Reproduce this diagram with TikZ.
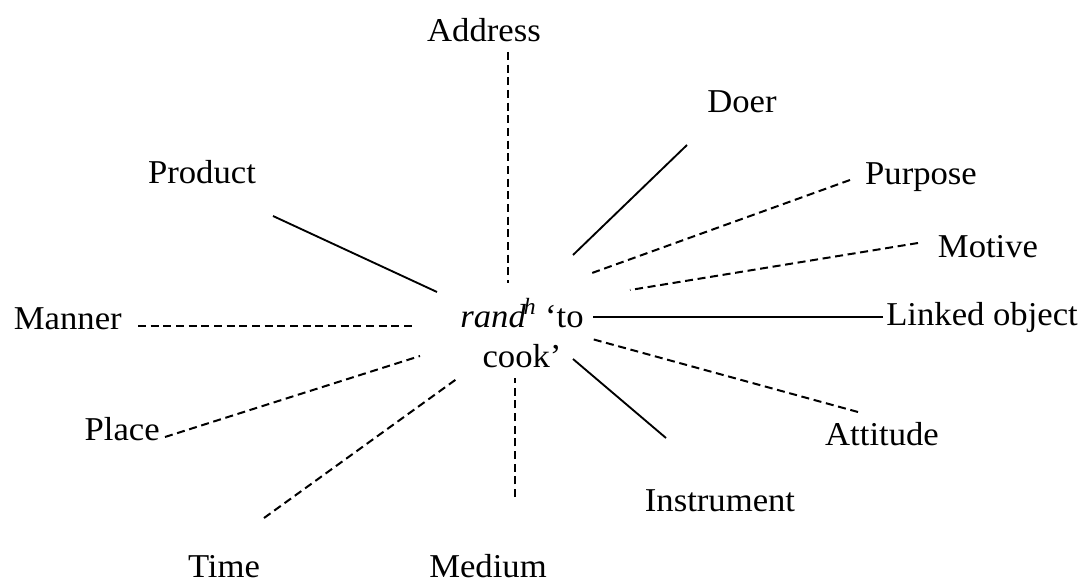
\documentclass[tikz,border=0pt]{standalone}
\usepackage{fontspec}
\setmainfont{Liberation Serif}[FakeStretch=1.04]
\begin{document}
\begin{tikzpicture}[x=0.75pt,y=-0.75pt,
  lbl/.style={anchor=base,inner sep=0pt,font=\fontsize{25}{30}\selectfont},
  link/.style={line width=1.4pt},
  weak/.style={line width=1.5pt,dash pattern=on 6pt off 3.5pt}]
\useasboundingbox (0,0) rectangle (1086,585);

% the verb at the centre
\node[lbl] (verb1) at (522,327) {\textit{rand}\textsuperscript{\kern-0.1em\textit{h}} ‘to};
\node[lbl] (verb2) at (522,367) {cook’};

% role labels
\node[lbl] (address) at (484,42)  {Address};
\node[lbl] (product) at (202,183) {Product};
\node[lbl] (doer)    at (742,113) {Doer};
\node[lbl] (purpose) at (921,185) {Purpose};
\node[lbl] (motive)  at (988,257) {Motive};
\node[lbl,anchor=base west] (linked) at (886,325) {Linked object};
\node[lbl,anchor=base east] (manner) at (122,329) {Manner};
\node[lbl,anchor=base east] (place)  at (160,440) {Place};
\node[lbl] (attitude)   at (882,445) {Attitude};
\node[lbl] (instrument) at (720,511) {Instrument};
\node[lbl] (time)    at (224,577) {Time};
\node[lbl] (medium)  at (488,577) {Medium};

% connector ends
\coordinate (addr-a) at (508,52);  \coordinate (addr-b) at (508,283);
\coordinate (prod-a) at (273,216); \coordinate (prod-b) at (437,292);
\coordinate (doer-a) at (687,145); \coordinate (doer-b) at (573,255);
\coordinate (purp-a) at (850,180); \coordinate (purp-b) at (592,273);
\coordinate (moti-a) at (918,243); \coordinate (moti-b) at (630,290);
\coordinate (link-a) at (883,317); \coordinate (link-b) at (593,317);
\coordinate (mann-a) at (138,326); \coordinate (mann-b) at (413,326);
\coordinate (plac-a) at (165,437); \coordinate (plac-b) at (420,356);
\coordinate (atti-a) at (858,412); \coordinate (atti-b) at (592,339);
\coordinate (inst-a) at (666,438); \coordinate (inst-b) at (573,359);
\coordinate (time-a) at (264,518); \coordinate (time-b) at (458,378);
\coordinate (medi-a) at (515,497); \coordinate (medi-b) at (515,378);

% firm links
\draw[link] (prod-a) -- (prod-b);
\draw[link] (doer-a) -- (doer-b);
\draw[link] (link-a) -- (link-b);
\draw[link] (inst-a) -- (inst-b);

% loose links
\draw[weak] (addr-a) -- (addr-b);
\draw[weak] (purp-a) -- (purp-b);
\draw[weak] (moti-a) -- (moti-b);
\draw[weak] (mann-a) -- (mann-b);
\draw[weak] (plac-a) -- (plac-b);
\draw[weak] (atti-a) -- (atti-b);
\draw[weak] (time-a) -- (time-b);
\draw[weak] (medi-a) -- (medi-b);
\end{tikzpicture}
\end{document}
